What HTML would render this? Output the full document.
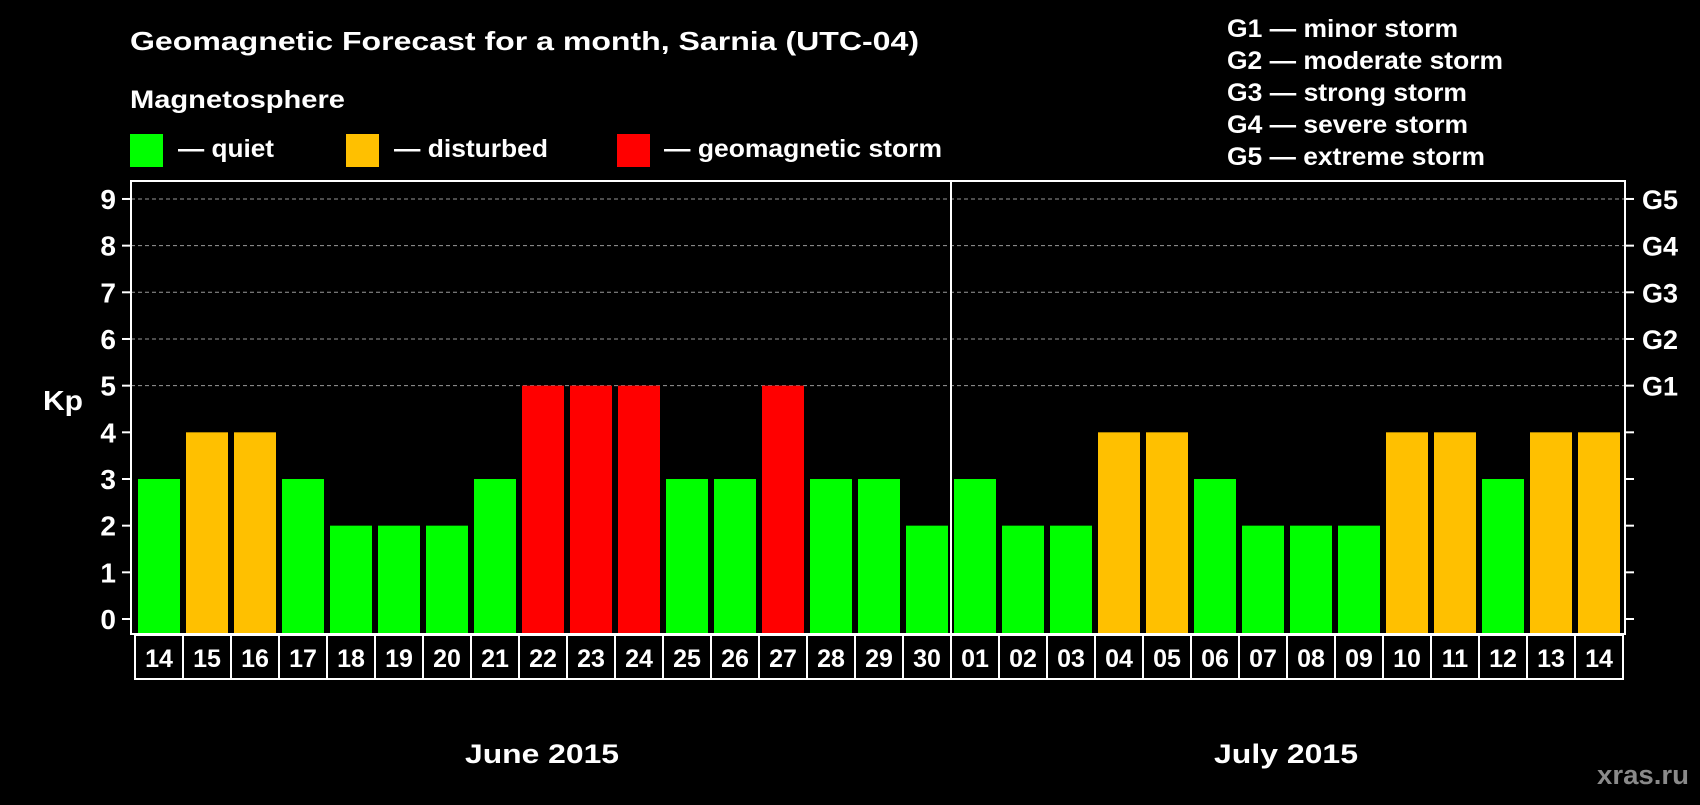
<!DOCTYPE html>
<html><head><meta charset="utf-8"><style>
html,body{margin:0;padding:0;background:#000;}
svg text{font-family:"Liberation Sans",Arial,sans-serif;font-weight:bold;fill:#fff;}
</style></head><body>
<svg id="chart" width="1700" height="800" viewBox="0 0 1700 800" xmlns="http://www.w3.org/2000/svg">
<rect x="0" y="0" width="1700" height="800" fill="#000"/>
<text x="130" y="50" font-size="26" textLength="789" lengthAdjust="spacingAndGlyphs">Geomagnetic Forecast for a month, Sarnia (UTC-04)</text>
<text x="130" y="108" font-size="25" textLength="215" lengthAdjust="spacingAndGlyphs">Magnetosphere</text>
<rect x="130" y="134" width="33" height="33" fill="#00ff00"/>
<text x="178" y="157" font-size="25" textLength="96" lengthAdjust="spacingAndGlyphs">— quiet</text>
<rect x="346" y="134" width="33" height="33" fill="#ffc000"/>
<text x="394" y="157" font-size="25" textLength="154" lengthAdjust="spacingAndGlyphs">— disturbed</text>
<rect x="617" y="134" width="33" height="33" fill="#ff0000"/>
<text x="664" y="157" font-size="25" textLength="278" lengthAdjust="spacingAndGlyphs">— geomagnetic storm</text>
<text x="1227" y="37" font-size="25" textLength="231" lengthAdjust="spacingAndGlyphs">G1 — minor storm</text>
<text x="1227" y="69" font-size="25" textLength="276" lengthAdjust="spacingAndGlyphs">G2 — moderate storm</text>
<text x="1227" y="101" font-size="25" textLength="240" lengthAdjust="spacingAndGlyphs">G3 — strong storm</text>
<text x="1227" y="133" font-size="25" textLength="241" lengthAdjust="spacingAndGlyphs">G4 — severe storm</text>
<text x="1227" y="165" font-size="25" textLength="258" lengthAdjust="spacingAndGlyphs">G5 — extreme storm</text>
<text x="43" y="410" font-size="28" textLength="40" lengthAdjust="spacingAndGlyphs">Kp</text>
<g id="grid"></g><g id="bars"></g><g id="axes"></g>
<text x="465" y="763" font-size="27" textLength="154" lengthAdjust="spacingAndGlyphs">June 2015</text>
<text x="1214" y="763" font-size="27" textLength="144" lengthAdjust="spacingAndGlyphs">July 2015</text>
<text x="1597" y="784" font-size="27" textLength="92" lengthAdjust="spacingAndGlyphs" style="fill:#8a8a8a">xras.ru</text>
</svg>
<script>
const dates=["14","15","16","17","18","19","20","21","22","23","24","25","26","27","28","29","30","01","02","03","04","05","06","07","08","09","10","11","12","13","14"];
const kpValues=[3,4,4,3,2,2,2,3,5,5,5,3,3,5,3,3,2,3,2,2,4,4,3,2,2,2,4,4,3,4,4];
const yTicks=[0,1,2,3,4,5,6,7,8,9];
const gLabels=["","","","","","G1","G2","G3","G4","G5"];
const NS="http://www.w3.org/2000/svg";
const plotLeft=131,plotRight=1625,plotTop=181,plotBottom=634,pitch=48,x0=135,barW=42;
const yScale=v=>619-v*46.67;
const xScale=i=>x0+i*pitch;
function mk(tag,attrs,parent){const e=document.createElementNS(NS,tag);for(const k in attrs)e.setAttribute(k,attrs[k]);parent.appendChild(e);return e;}
const grid=document.getElementById('grid'),bars=document.getElementById('bars'),axes=document.getElementById('axes');
yTicks.forEach((t,i)=>{
  if(t>=5){const l=mk('line',{x1:plotLeft,x2:plotRight,y1:yScale(t),y2:yScale(t),stroke:'#999','stroke-width':1,'stroke-dasharray':'4,3'},grid);
  
  }
  const tl=mk('line',{x1:plotLeft-9,x2:plotLeft,y1:yScale(t),y2:yScale(t),stroke:'#fff','stroke-width':2},axes);
  
  
  const tr=mk('line',{x1:plotRight,x2:plotRight+9,y1:yScale(t),y2:yScale(t),stroke:'#fff','stroke-width':2},axes);
  
  
  const lt=mk('text',{x:116,y:yScale(t)+10,'font-size':28,'text-anchor':'end'},axes);lt.textContent=t;
  
  
  if(gLabels[i]){const gt=mk('text',{x:1642,y:yScale(t)+10,'font-size':27},axes);gt.textContent=gLabels[i];
  
  }
});
kpValues.forEach((v,i)=>{
  const c=v>=5?'#ff0000':(v>=4?'#ffc000':'#00ff00');
  const r=mk('rect',{x:xScale(i)+3,y:yScale(v),width:barW,height:yScale(0)+15-yScale(v),fill:c},bars);
  
  
  const b=mk('rect',{x:xScale(i),y:635,width:pitch,height:44,fill:'none',stroke:'#fff','stroke-width':2},axes);
  
  
  const t=mk('text',{x:xScale(i)+pitch/2,y:667,'font-size':25,'text-anchor':'middle'},axes);t.textContent=dates[i];
  
  
});
const frame=mk('rect',{x:plotLeft,y:plotTop,width:plotRight-plotLeft,height:plotBottom-plotTop,fill:'none',stroke:'#fff','stroke-width':2},axes);


const div=mk('line',{x1:xScale(17),x2:xScale(17),y1:plotTop,y2:plotBottom,stroke:'#fff','stroke-width':2},axes);


</script>
</body></html>
